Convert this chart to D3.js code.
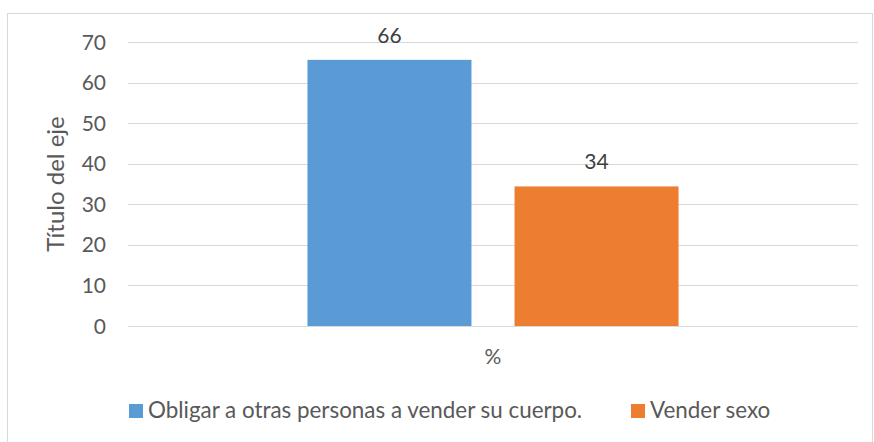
<!DOCTYPE html>
<html>
<head>
<meta charset="utf-8">
<script src="https://cdn.jsdelivr.net/npm/d3@7"></script>
<style>
  body { margin: 0; background: #fff; }
  text { font-family: Lato, "Open Sans", sans-serif; fill: #595959; }
</style>
</head>
<body>
<svg id="chart"></svg>
<script>
var categories = ["%"];
var series = ["Obligar a otras personas a vender su cuerpo.", "Vender sexo"];
var values = [65.6, 34.4];
var labels = ["66", "34"];
var yTicks = [0, 10, 20, 30, 40, 50, 60, 70];
var colors = ["#5B9BD5", "#ED7D31"];

var settings = { width: 874, height: 442 };
var plot = { left: 128, right: 858, top: 42, bottom: 326 };
var fontSize = 21;

var svg = d3.select("#chart")
    .attr("width", settings.width)
    .attr("height", settings.height);

// chart frame
svg.append("rect")
    .attr("x", 7.5).attr("y", 13.5)
    .attr("width", 865).attr("height", 440)
    .attr("fill", "#fff")
    .attr("stroke", "#D9D9D9")
    .attr("stroke-width", 1);

var y = d3.scaleLinear().domain([0, 70]).range([plot.bottom, plot.top]);

var x0 = d3.scaleBand()
    .domain(categories)
    .range([plot.left, plot.right])
    .paddingInner(0.326)
    .paddingOuter(0.326);

var x1 = d3.scaleBand()
    .domain(series)
    .range([0, x0.bandwidth()])
    .paddingInner(0.208);

// gridlines
svg.append("g")
    .selectAll("line")
    .data(yTicks)
    .join("line")
    .attr("x1", plot.left).attr("x2", plot.right)
    .attr("y1", d => Math.round(y(d)) + 0.5)
    .attr("y2", d => Math.round(y(d)) + 0.5)
    .attr("stroke", "#D9D9D9")
    .attr("stroke-width", 1);

// y tick labels
svg.append("g")
    .selectAll("text")
    .data(yTicks)
    .join("text")
    .attr("x", 106)
    .attr("y", d => y(d))
    .attr("dy", "0.36em")
    .attr("text-anchor", "end")
    .attr("font-size", fontSize)
    .text(d => d);

// axis title
svg.append("text")
    .attr("transform", "translate(64," + ((plot.top + plot.bottom) / 2) + ") rotate(-90)")
    .attr("text-anchor", "middle")
    .attr("font-size", 24)
    .text("Título del eje");

// bars
var rows = series.map((s, i) => ({ series: s, value: values[i], label: labels[i], color: colors[i] }));

var group = svg.append("g")
    .attr("transform", "translate(" + x0(categories[0]) + ",0)");

group.selectAll("rect")
    .data(rows)
    .join("rect")
    .attr("x", d => x1(d.series))
    .attr("y", d => y(d.value))
    .attr("width", x1.bandwidth())
    .attr("height", d => y(0) - y(d.value))
    .attr("fill", d => d.color);

group.selectAll(".lbl")
    .data(rows)
    .join("text")
    .attr("class", "lbl")
    .attr("x", d => x1(d.series) + x1.bandwidth() / 2)
    .attr("y", d => y(d.value) - 17)
    .attr("text-anchor", "middle")
    .attr("font-size", fontSize)
    .style("fill", "#404040")
    .text(d => d.label);

// category label
svg.append("text")
    .attr("x", x0(categories[0]) + x0.bandwidth() / 2)
    .attr("y", 364)
    .attr("text-anchor", "middle")
    .attr("font-size", fontSize)
    .text(categories[0]);

// legend
var legendX = [129, 631];
var legend = svg.append("g")
    .selectAll("g")
    .data(rows)
    .join("g")
    .attr("transform", (d, i) => "translate(" + legendX[i] + ",404)");

legend.append("rect")
    .attr("width", 14).attr("height", 14)
    .attr("fill", d => d.color);

legend.append("text")
    .attr("x", 19)
    .attr("y", 14)
    .attr("font-size", 22.4)
    .text(d => d.series);
</script>
</body>
</html>
